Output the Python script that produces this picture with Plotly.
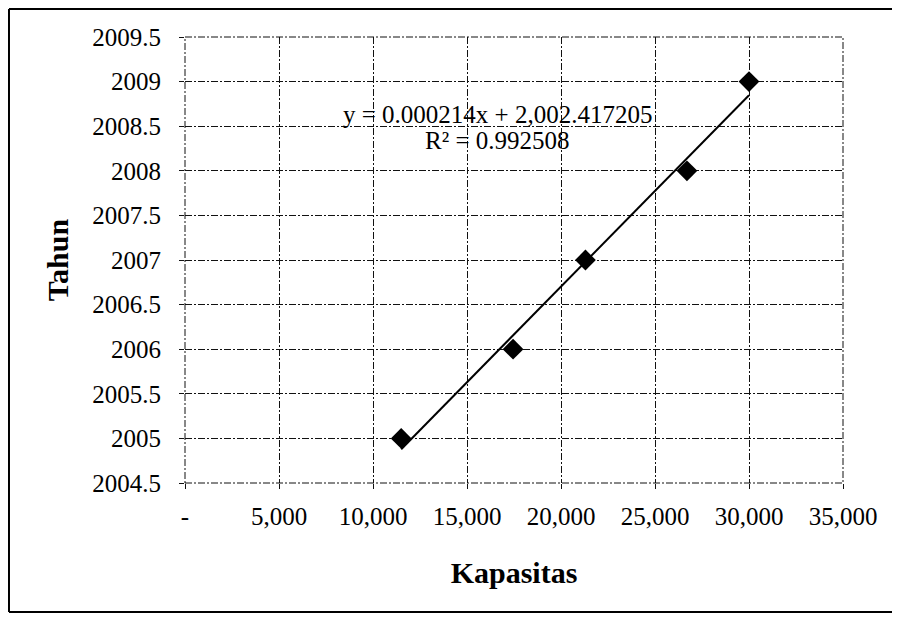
import numpy as np
import plotly.graph_objects as go

# Data
kapasitas = [11500, 17450, 21300, 26700, 30000]
tahun = [2005, 2006, 2007, 2008, 2009]

x_tickvals = [0, 5000, 10000, 15000, 20000, 25000, 30000, 35000]
x_ticktext = ["-", "5,000", "10,000", "15,000", "20,000", "25,000", "30,000", "35,000"]
y_tickvals = [2004.5, 2005, 2005.5, 2006, 2006.5, 2007, 2007.5, 2008, 2008.5, 2009, 2009.5]
y_ticktext = ["2004.5", "2005", "2005.5", "2006", "2006.5", "2007", "2007.5", "2008", "2008.5", "2009", "2009.5"]

eq_line1 = "y = 0.000214x + 2,002.417205"
eq_line2 = "R² = 0.992508"

FONT = "Liberation Serif, Times New Roman, serif"

# Linear trend from data
slope, intercept = np.polyfit(kapasitas, tahun, 1)
trend_x = [min(kapasitas), max(kapasitas)]
trend_y = [slope * v + intercept for v in trend_x]

fig = go.Figure()
fig.add_trace(go.Scatter(x=trend_x, y=trend_y, mode="lines",
                         line=dict(color="black", width=2), showlegend=False,
                         hoverinfo="skip"))
fig.add_trace(go.Scatter(x=kapasitas, y=tahun, mode="markers",
                         marker=dict(symbol="diamond", size=16, color="black",
                                     line=dict(color="black", width=0)),
                         showlegend=False))

grid_dash = "7px,2px,2px,2px"

fig.update_xaxes(range=[0, 35000], tickvals=x_tickvals, ticktext=x_ticktext,
                 showgrid=True, gridcolor="#111", gridwidth=1, griddash=grid_dash,
                 zeroline=False, showline=False,
                 ticks="outside", ticklen=5, tickcolor="#111",
                 ticklabelstandoff=6,
                 tickfont=dict(family=FONT, size=25, color="black"),
                 title=dict(text="<b>Kapasitas</b>", standoff=32,
                            font=dict(family=FONT, size=30, color="black")))
fig.update_yaxes(range=[2004.5, 2009.5], tickvals=y_tickvals, ticktext=y_ticktext,
                 showgrid=True, gridcolor="#111", gridwidth=1, griddash=grid_dash,
                 zeroline=False, showline=False,
                 ticks="outside", ticklen=5, tickcolor="#111",
                 ticklabelstandoff=13,
                 tickfont=dict(family=FONT, size=25, color="black"),
                 title=dict(text="<b>Tahun</b>", standoff=14,
                            font=dict(family=FONT, size=30, color="black")))

fig.add_annotation(x=16600, y=2008.63, xref="x", yref="y", text=eq_line1,
                   showarrow=False, font=dict(family=FONT, size=25, color="black"),
                   xanchor="center", yanchor="middle")
fig.add_annotation(x=16600, y=2008.345, xref="x", yref="y", text=eq_line2,
                   showarrow=False, font=dict(family=FONT, size=25, color="black"),
                   xanchor="center", yanchor="middle")

# Plot-area border (dashed like the gridlines)
fig.add_shape(type="rect", xref="paper", yref="paper", x0=0, x1=1, y0=0, y1=1,
              line=dict(color="#111", width=1, dash=grid_dash), layer="below")

# Outer chart frame (left, top, bottom edges; right edge falls outside the picture)
fx0, fx1, fy0, fy1 = -0.2675, 1.085, -0.289, 1.0628
for (a, b, c, d) in [(fx0, fy0, fx0, fy1), (fx0, fy1, fx1, fy1), (fx0, fy0, fx1, fy0)]:
    fig.add_shape(type="line", xref="paper", yref="paper", x0=a, y0=b, x1=c, y1=d,
                  line=dict(color="black", width=2), layer="below")

fig.update_layout(width=892, height=613,
                  margin=dict(l=177, r=57, t=29, b=138),
                  paper_bgcolor="white", plot_bgcolor="white",
                  font=dict(family=FONT, color="black"))

fig.write_html("out.html",
               post_script="document.documentElement.style.overflow='hidden';"
                           "document.body.style.overflow='hidden';")
